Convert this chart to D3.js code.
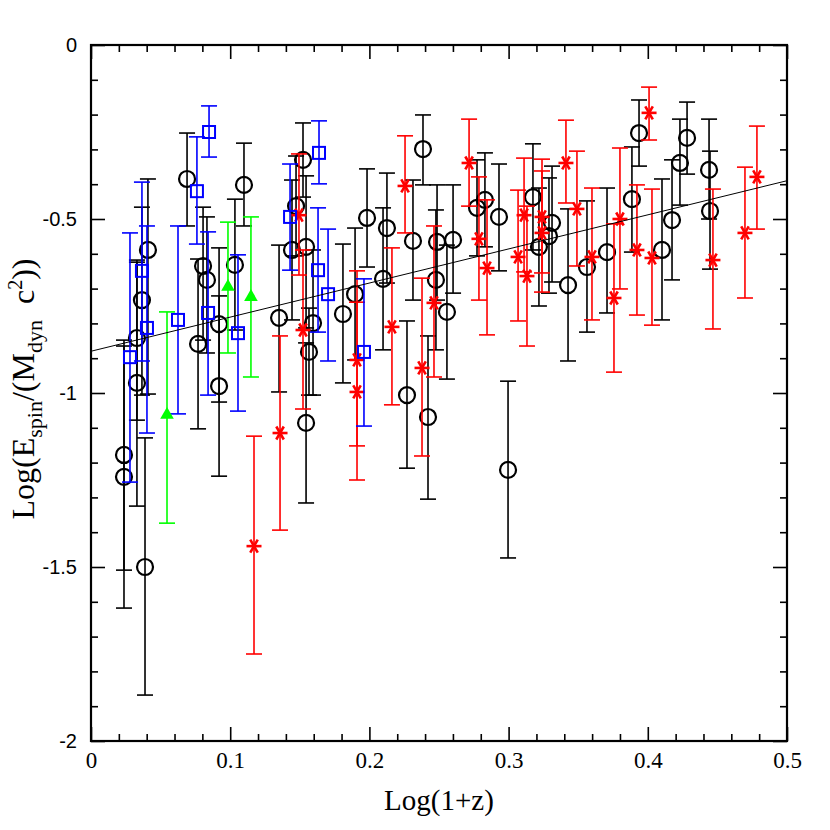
<html>
<head>
  <script src="https://d3js.org/d3.v7.min.js"></script>
  <style>
    body { margin: 0; background: #ffffff; }
    .tick text { fill: #000; }
  </style>
</head>
<body>
<div id="chart"></div>
<script>

// black circles
var circX  = [0.0237, 0.0237, 0.0330, 0.0330, 0.0366, 0.0409, 0.0388, 0.0690, 0.0769, 0.0805, 0.0833, 0.0920, 0.0920, 0.1034, 0.1099,
              0.1351, 0.1444, 0.1473, 0.1523, 0.1545, 0.1566, 0.1545, 0.1595, 0.1810, 0.1897, 0.1983, 0.2126, 0.2098, 0.2270, 0.2313,
              0.2385, 0.2421, 0.2478, 0.2486, 0.2557, 0.2601, 0.2773, 0.2830, 0.2931, 0.2996, 0.3175, 0.3218, 0.3290, 0.3312, 0.3427,
              0.3563, 0.3707, 0.3886, 0.3937, 0.4102, 0.4174, 0.4231, 0.4282, 0.4440, 0.4447];
var circY  = [-1.178, -1.241, -0.842, -0.971, -0.733, -0.589, -1.500, -0.385, -0.859, -0.635, -0.675, -0.802, -0.980, -0.632, -0.402,
              -0.784, -0.589, -0.463, -0.330, -0.580, -0.882, -1.086, -0.799, -0.773, -0.716, -0.497, -0.526, -0.672, -1.006, -0.563,
              -0.299, -1.069, -0.675, -0.566, -0.767, -0.560, -0.468, -0.445, -0.494, -1.221, -0.437, -0.580, -0.549, -0.511, -0.690,
              -0.638, -0.595, -0.443, -0.253, -0.589, -0.503, -0.339, -0.267, -0.359, -0.477];
var circHi = [-0.848, -0.865, -0.618, -0.624, -0.466, -0.385, -1.129, -0.253, -0.615, -0.466, -0.494, -0.583, -0.721, -0.443, -0.282,
              -0.575, -0.388, -0.319, -0.224, -0.376, -0.756, -0.856, -0.589, -0.572, -0.526, -0.356, -0.368, -0.468, -0.793, -0.388,
              -0.201, -0.836, -0.474, -0.402, -0.575, -0.402, -0.330, -0.310, -0.342, -0.966, -0.284, -0.411, -0.382, -0.348, -0.471,
              -0.448, -0.411, -0.293, -0.158, -0.385, -0.330, -0.213, -0.164, -0.213, -0.305];
var circLo = [-1.509, -1.618, -1.078, -1.325, -1.006, -1.003, -1.868, -0.520, -1.103, -0.848, -0.885, -1.026, -1.239, -0.819, -0.520,
              -0.997, -0.790, -0.606, -0.437, -0.813, -1.006, -1.316, -1.006, -0.971, -0.905, -0.638, -0.684, -0.876, -1.216, -0.733,
              -0.402, -1.305, -0.876, -0.733, -0.960, -0.713, -0.606, -0.580, -0.649, -1.474, -0.589, -0.750, -0.713, -0.681, -0.908,
              -0.825, -0.770, -0.595, -0.348, -0.790, -0.675, -0.460, -0.371, -0.500, -0.644];

// red stars
var starX  = [0.1171, 0.1358, 0.1523, 0.1494, 0.1911, 0.1911, 0.2162, 0.2256, 0.2378, 0.2464, 0.2716, 0.2787, 0.2845, 0.3068, 0.3111,
              0.3132, 0.3240, 0.3240, 0.3412, 0.3491, 0.3599, 0.3757, 0.3800, 0.3922, 0.4009, 0.4030, 0.4468, 0.4698, 0.4784];
var starY  = [-1.440, -1.115, -0.819, -0.489, -0.905, -0.997, -0.810, -0.405, -0.928, -0.741, -0.339, -0.557, -0.641, -0.609, -0.489,
              -0.664, -0.494, -0.540, -0.339, -0.471, -0.609, -0.727, -0.500, -0.589, -0.195, -0.612, -0.618, -0.540, -0.379];
var starHi = [-1.124, -0.836, -0.589, -0.313, -0.649, -0.739, -0.583, -0.261, -0.670, -0.520, -0.213, -0.379, -0.445, -0.417, -0.325,
              -0.463, -0.328, -0.362, -0.216, -0.305, -0.411, -0.514, -0.296, -0.402, -0.121, -0.414, -0.414, -0.351, -0.233];
var starLo = [-1.750, -1.394, -1.046, -0.661, -1.152, -1.250, -1.034, -0.540, -1.181, -0.954, -0.463, -0.733, -0.833, -0.793, -0.652,
              -0.865, -0.655, -0.710, -0.454, -0.635, -0.790, -0.940, -0.701, -0.776, -0.273, -0.805, -0.816, -0.727, -0.529];

// blue squares
var sqX  = [0.0848, 0.0761, 0.0366, 0.0402, 0.0280, 0.0625, 0.0841, 0.1056, 0.1638, 0.1430, 0.1631, 0.1703, 0.1961];
var sqY  = [-0.250, -0.420, -0.649, -0.813, -0.897, -0.790, -0.770, -0.828, -0.310, -0.494, -0.647, -0.716, -0.882];
var sqHi = [-0.175, -0.264, -0.394, -0.520, -0.540, -0.520, -0.537, -0.603, -0.218, -0.342, -0.468, -0.529, -0.672];
var sqLo = [-0.322, -0.572, -0.908, -1.115, -1.256, -1.060, -1.006, -1.052, -0.399, -0.647, -0.825, -0.908, -1.095];

// green triangles
var triX  = [0.0546, 0.0984, 0.1149];
var triY  = [-1.063, -0.695, -0.724];
var triHi = [-0.767, -0.509, -0.494];
var triLo = [-1.374, -0.885, -0.954];

// fitted line
var fitX = [0, 0.5];
var fitY = [-0.88, -0.39];

var xMajor = [0, 0.1, 0.2, 0.3, 0.4, 0.5];
var yMajor = [0, -0.5, -1, -1.5, -2];

var margin = { top: 45, left: 91 },
    width = 696,
    height = 696;

var svg = d3.select("#chart")
  .append("svg")
  .attr("width", 830)
  .attr("height", 830)
  .append("g")
  .attr("transform", "translate(" + margin.left + "," + margin.top + ")");

var x = d3.scaleLinear().domain([0, 0.5]).range([0, width]);
var y = d3.scaleLinear().domain([-2, 0]).range([height, 0]);

function zip(xs, ys, his, los) {
  return xs.map(function (d, i) { return { x: d, y: ys[i], hi: his[i], lo: los[i] }; });
}

var xMinor = d3.range(0, 0.5001, 0.02).filter(function (v) { return Math.abs(v * 10 - Math.round(v * 10)) > 1e-6; });
var yMinor = d3.range(-2, 0.0001, 0.1).filter(function (v) { return Math.abs(v * 2 - Math.round(v * 2)) > 1e-6; });

var fmtY = function (d) { return d === 0 ? "0" : "-" + Math.abs(d); };

// axes, ticks pointing inward
svg.append("g").attr("class", "xax")
  .attr("transform", "translate(0," + height + ")")
  .call(d3.axisBottom(x).tickValues(xMajor).tickSizeInner(-14).tickSizeOuter(0).tickPadding(11)
    .tickFormat(function (d) { return d === 0 ? "0" : d3.format(".1f")(d); }));
svg.append("g").attr("transform", "translate(0," + height + ")")
  .call(d3.axisBottom(x).tickValues(xMinor).tickSizeInner(-7).tickSizeOuter(0).tickFormat(""));
svg.append("g")
  .call(d3.axisTop(x).tickValues(xMajor).tickSizeInner(-14).tickSizeOuter(0).tickFormat(""));
svg.append("g")
  .call(d3.axisTop(x).tickValues(xMinor).tickSizeInner(-7).tickSizeOuter(0).tickFormat(""));

svg.append("g").attr("class", "yax")
  .call(d3.axisLeft(y).tickValues(yMajor).tickSizeInner(-14).tickSizeOuter(0).tickPadding(14).tickFormat(fmtY));
svg.append("g")
  .call(d3.axisLeft(y).tickValues(yMinor).tickSizeInner(-7).tickSizeOuter(0).tickFormat(""));
svg.append("g").attr("transform", "translate(" + width + ",0)")
  .call(d3.axisRight(y).tickValues(yMajor).tickSizeInner(-14).tickSizeOuter(0).tickFormat(""));
svg.append("g").attr("transform", "translate(" + width + ",0)")
  .call(d3.axisRight(y).tickValues(yMinor).tickSizeInner(-7).tickSizeOuter(0).tickFormat(""));

svg.selectAll(".domain").remove();
svg.selectAll(".tick line").attr("stroke", "#000").attr("stroke-width", 1.6);

svg.selectAll(".xax text")
  .style("font-family", "'Liberation Serif', serif")
  .style("font-size", "23px");
svg.selectAll(".yax text")
  .style("font-family", "'Liberation Sans', sans-serif")
  .style("font-size", "20px");

svg.append("rect")
  .attr("x", 0).attr("y", 0)
  .attr("width", width).attr("height", height)
  .attr("fill", "none")
  .attr("stroke", "#000")
  .attr("stroke-width", 2.2);

// error bars helper
var cap = 8;
function errorBars(data, color) {
  var g = svg.append("g").attr("stroke", color).attr("stroke-width", 1.6).attr("fill", "none");
  g.selectAll(".bar").data(data).enter().append("line")
    .attr("x1", function (d) { return x(d.x); }).attr("x2", function (d) { return x(d.x); })
    .attr("y1", function (d) { return y(d.hi); }).attr("y2", function (d) { return y(d.lo); });
  g.selectAll(".capHi").data(data).enter().append("line")
    .attr("x1", function (d) { return x(d.x) - cap; }).attr("x2", function (d) { return x(d.x) + cap; })
    .attr("y1", function (d) { return y(d.hi); }).attr("y2", function (d) { return y(d.hi); });
  g.selectAll(".capLo").data(data).enter().append("line")
    .attr("x1", function (d) { return x(d.x) - cap; }).attr("x2", function (d) { return x(d.x) + cap; })
    .attr("y1", function (d) { return y(d.lo); }).attr("y2", function (d) { return y(d.lo); });
}

var circles = zip(circX, circY, circHi, circLo);
var stars = zip(starX, starY, starHi, starLo);
var squares = zip(sqX, sqY, sqHi, sqLo);
var tris = zip(triX, triY, triHi, triLo);

// black
errorBars(circles, "#000");
svg.append("g").selectAll("circle").data(circles).enter().append("circle")
  .attr("cx", function (d) { return x(d.x); })
  .attr("cy", function (d) { return y(d.y); })
  .attr("r", 8)
  .attr("fill", "none")
  .attr("stroke", "#000")
  .attr("stroke-width", 2.2);

// red
errorBars(stars, "#ff0000");
svg.append("g").selectAll("g").data(stars).enter().append("g")
  .attr("transform", function (d) { return "translate(" + x(d.x) + "," + y(d.y) + ")"; })
  .each(function () {
    var s = d3.select(this);
    [0, 60, 120].forEach(function (a) {
      var r = 7.5, t = a * Math.PI / 180;
      s.append("line")
        .attr("x1", -r * Math.cos(t)).attr("y1", -r * Math.sin(t))
        .attr("x2", r * Math.cos(t)).attr("y2", r * Math.sin(t))
        .attr("stroke", "#ff0000").attr("stroke-width", 2.6);
    });
  });

// blue
errorBars(squares, "#0000ff");
svg.append("g").selectAll("rect").data(squares).enter().append("rect")
  .attr("x", function (d) { return x(d.x) - 6; })
  .attr("y", function (d) { return y(d.y) - 6; })
  .attr("width", 12).attr("height", 12)
  .attr("fill", "none")
  .attr("stroke", "#0000ff")
  .attr("stroke-width", 2);

// green
errorBars(tris, "#00ff00");
svg.append("g").selectAll("path").data(tris).enter().append("path")
  .attr("transform", function (d) { return "translate(" + x(d.x) + "," + y(d.y) + ")"; })
  .attr("d", d3.symbol().type(d3.symbolTriangle).size(80))
  .attr("fill", "#00ff00");

// fit line
svg.append("path")
  .datum(d3.zip(fitX, fitY))
  .attr("d", d3.line().x(function (d) { return x(d[0]); }).y(function (d) { return y(d[1]); }))
  .attr("fill", "none")
  .attr("stroke", "#000")
  .attr("stroke-width", 1);

// axis titles
svg.append("text")
  .attr("x", width / 2)
  .attr("y", height + 69)
  .attr("text-anchor", "middle")
  .style("font-family", "'Liberation Serif', serif")
  .style("font-size", "29px")
  .text("Log(1+z)");

var yt = svg.append("text")
  .attr("transform", "translate(-57," + (height / 2 - 4) + ") rotate(-90)")
  .attr("text-anchor", "middle")
  .style("font-family", "'Liberation Serif', serif")
  .style("font-size", "32px");
yt.append("tspan").text("Log(E");
yt.append("tspan").attr("dy", 8).style("font-size", "22px").text("spin");
yt.append("tspan").attr("dy", -8).text("/(M");
yt.append("tspan").attr("dy", 8).style("font-size", "22px").text("dyn");
yt.append("tspan").attr("dy", -8).text("\u00a0\u00a0c");
yt.append("tspan").attr("dy", -12).style("font-size", "20px").text("2");
yt.append("tspan").attr("dy", 12).text("))");

</script>
</body>
</html>
